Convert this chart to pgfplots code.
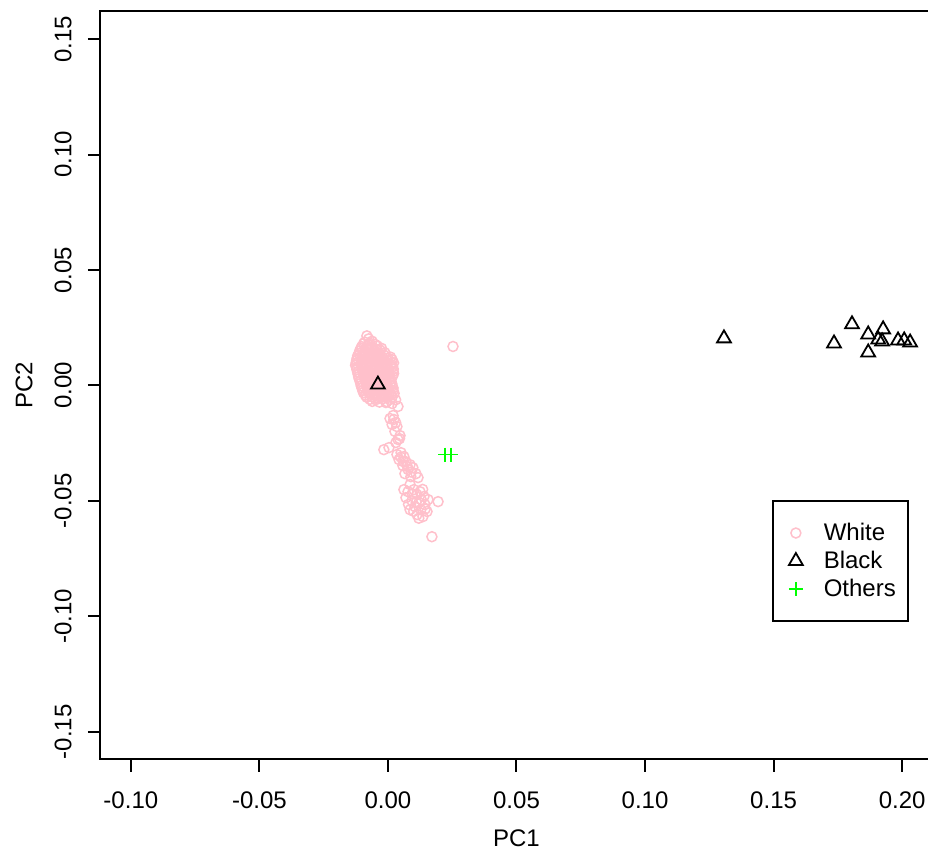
\documentclass[border=0pt]{standalone}
\usepackage{fontspec}
\setmainfont{Liberation Sans}
\usepackage{pgfplots}
\pgfplotsset{compat=1.18}
\definecolor{rpink}{RGB}{255,192,203}
\definecolor{rgreen}{RGB}{0,255,0}

% PC scores, white group
\pgfplotstableread{
x y
-0.0082 0.0215
-0.0090 0.0188
-0.0062 0.0192
-0.0075 0.0178
-0.0102 0.0168
-0.0081 0.0171
-0.0060 0.0166
-0.0042 0.0172
-0.0110 0.0150
-0.0091 0.0147
-0.0071 0.0153
-0.0050 0.0149
-0.0031 0.0154
-0.0040 0.0140
-0.0118 0.0128
-0.0097 0.0133
-0.0077 0.0127
-0.0056 0.0131
-0.0036 0.0126
-0.0015 0.0132
-0.0066 0.0140
-0.0086 0.0141
-0.0122 0.0108
-0.0101 0.0112
-0.0080 0.0106
-0.0061 0.0113
-0.0041 0.0108
-0.0020 0.0111
0.0000 0.0107
0.0016 0.0112
-0.0126 0.0088
-0.0106 0.0092
-0.0085 0.0087
-0.0064 0.0091
-0.0045 0.0086
-0.0024 0.0093
-0.0004 0.0089
0.0014 0.0090
0.0022 0.0098
-0.0121 0.0069
-0.0100 0.0072
-0.0079 0.0067
-0.0059 0.0071
-0.0039 0.0066
-0.0019 0.0072
0.0001 0.0068
0.0021 0.0071
-0.0116 0.0048
-0.0095 0.0052
-0.0074 0.0047
-0.0054 0.0051
-0.0034 0.0046
-0.0014 0.0052
0.0006 0.0048
0.0022 0.0052
-0.0112 0.0029
-0.0091 0.0032
-0.0070 0.0027
-0.0049 0.0031
-0.0029 0.0027
-0.0010 0.0032
0.0011 0.0028
-0.0106 0.0009
-0.0085 0.0012
-0.0065 0.0007
-0.0045 0.0011
-0.0025 0.0006
-0.0005 0.0012
0.0015 0.0008
-0.0101 -0.0011
-0.0080 -0.0008
-0.0060 -0.0013
-0.0040 -0.0009
-0.0020 -0.0012
0.0000 -0.0008
0.0020 -0.0011
-0.0095 -0.0031
-0.0075 -0.0028
-0.0055 -0.0033
-0.0035 -0.0029
-0.0015 -0.0032
0.0005 -0.0028
0.0024 -0.0034
-0.0082 -0.0051
-0.0062 -0.0048
-0.0042 -0.0053
-0.0022 -0.0049
0.0000 -0.0052
0.0016 -0.0050
-0.0061 -0.0069
-0.0033 -0.0072
-0.0005 -0.0070
0.0030 -0.0062
-0.0075 0.0202
-0.0095 0.0181
-0.0070 0.0183
-0.0050 0.0178
-0.0105 0.0161
-0.0085 0.0158
-0.0065 0.0162
-0.0045 0.0157
-0.0025 0.0161
-0.0112 0.0139
-0.0092 0.0142
-0.0072 0.0138
-0.0052 0.0141
-0.0032 0.0137
-0.0012 0.0142
-0.0120 0.0118
-0.0100 0.0122
-0.0080 0.0117
-0.0060 0.0121
-0.0040 0.0118
-0.0020 0.0122
0.0000 0.0119
0.0010 0.0123
-0.0124 0.0098
-0.0104 0.0101
-0.0084 0.0097
-0.0064 0.0102
-0.0044 0.0098
-0.0024 0.0101
-0.0004 0.0097
0.0016 0.0101
-0.0122 0.0078
-0.0102 0.0082
-0.0082 0.0077
-0.0062 0.0081
-0.0042 0.0078
-0.0022 0.0082
-0.0002 0.0077
0.0018 0.0081
-0.0118 0.0058
-0.0098 0.0062
-0.0078 0.0057
-0.0058 0.0061
-0.0038 0.0058
-0.0018 0.0062
0.0002 0.0057
0.0020 0.0061
-0.0114 0.0038
-0.0094 0.0042
-0.0074 0.0037
-0.0054 0.0041
-0.0034 0.0038
-0.0014 0.0042
0.0006 0.0037
0.0018 0.0041
-0.0108 0.0018
-0.0088 0.0022
-0.0068 0.0017
-0.0048 0.0021
-0.0028 0.0018
-0.0008 0.0022
0.0012 0.0017
-0.0104 -0.0002
-0.0084 0.0002
-0.0064 -0.0003
-0.0044 0.0001
-0.0024 -0.0002
-0.0004 0.0002
0.0016 -0.0003
-0.0098 -0.0022
-0.0078 -0.0018
-0.0058 -0.0023
-0.0038 -0.0019
-0.0018 -0.0022
0.0002 -0.0018
0.0020 -0.0023
-0.0088 -0.0042
-0.0068 -0.0038
-0.0048 -0.0043
-0.0028 -0.0039
-0.0008 -0.0042
0.0012 -0.0038
-0.0070 -0.0060
-0.0048 -0.0062
-0.0020 -0.0058
0.0008 -0.0061
0.0039 -0.0091
0.0016 -0.0078
-0.0008 -0.0074
0.0008 -0.0143
0.0023 -0.0147
0.0016 -0.0169
0.0035 -0.0178
0.0027 -0.0199
0.0047 -0.0217
0.0039 -0.0234
0.0031 -0.0247
-0.0016 -0.0278
0.0004 -0.0269
0.0035 -0.0299
0.0051 -0.0291
0.0062 -0.0308
0.0043 -0.0321
0.0070 -0.0330
0.0086 -0.0343
0.0058 -0.0347
0.0078 -0.0364
0.0097 -0.0356
0.0109 -0.0382
0.0066 -0.0382
0.0089 -0.0395
0.0117 -0.0399
0.0086 -0.0429
0.0062 -0.0451
0.0078 -0.0460
0.0101 -0.0451
0.0113 -0.0473
0.0125 -0.0460
0.0140 -0.0481
0.0070 -0.0486
0.0093 -0.0499
0.0121 -0.0507
0.0144 -0.0516
0.0156 -0.0494
0.0105 -0.0525
0.0086 -0.0538
0.0128 -0.0538
0.0152 -0.0546
0.0113 -0.0559
0.0136 -0.0568
0.0095 -0.0470
0.0130 -0.0495
0.0110 -0.0505
0.0145 -0.0535
0.0100 -0.0545
0.0120 -0.0575
0.0080 -0.0515
0.0135 -0.0450
0.0075 -0.0350
0.0090 -0.0375
0.0060 -0.0330
0.0050 -0.0310
0.0030 -0.0160
0.0045 -0.0230
0.0020 -0.0130
0.0195 -0.0503
0.0171 -0.0655
0.0253 0.0169
}\white

\pgfplotstableread{
x y
-0.0039 0.0004
0.1307 0.0204
0.1735 0.0182
0.1805 0.0265
0.1868 0.0221
0.1926 0.0243
0.1868 0.0143
0.1907 0.0199
0.1922 0.0191
0.1984 0.0195
0.2008 0.0195
0.2031 0.0186
}\black

\pgfplotstableread{
x y
0.0222 -0.0299
0.0245 -0.0299
}\others

\begin{document}
\begin{tikzpicture}
\begin{axis}[
  at={(0,0)}, anchor=south west,
  scale only axis, width=416.5pt, height=374pt,
  xmin=-0.112, xmax=0.212, ymin=-0.162, ymax=0.162,
  axis line style={line width=1pt},
  xtick={-0.1,-0.05,0,0.05,0.1,0.15,0.2},
  ytick={-0.15,-0.1,-0.05,0,0.05,0.1,0.15},
  xtick pos=bottom, ytick pos=left,
  tick align=outside, major tick length=6pt,
  tick style={black, line width=1pt},
  tick label style={font=\fontsize{12}{14}\selectfont},
  xticklabel style={inner sep=0pt, anchor=north},
  yticklabel style={rotate=90, inner sep=0pt, anchor=south},
  xticklabel shift=10pt, yticklabel shift=8pt,
  /pgf/number format/.cd, fixed, fixed zerofill, precision=2, assume math mode=true,
  /pgfplots/.cd,
  xlabel={PC1}, ylabel={PC2},
  label style={font=\fontsize{12}{14}\selectfont},
  xlabel style={at={(axis description cs:0.5,-0.105)}, anchor=center},
  ylabel style={at={(axis description cs:-0.0912,0.5)}, anchor=center},
  legend style={at={(axis description cs:0.8067,0.3469)}, anchor=north west,
    draw=black, line width=1pt, font=\fontsize{12}{14}\selectfont,
    inner xsep=6pt, inner ysep=9pt, row sep=0pt, column sep=8.5pt,
    nodes={inner sep=0pt, minimum height=14pt}},
  legend cell align=left,
  legend image code/.code={\path (-5pt,0pt) (5pt,0pt); \draw[#1] plot coordinates {(0pt,0pt)};},
]
\addplot[only marks, mark=o, mark size=2.5pt, color=rpink, line width=0.75pt] table[x=x,y=y] {\white};
\addplot[only marks, mark=triangle, mark size=4pt, color=black, line width=0.9pt] table[x=x,y=y] {\black};
\addplot[only marks, mark=+, mark size=3.5pt, color=rgreen, line width=0.9pt] table[x=x,y=y] {\others};
\legend{White, Black, Others}
\end{axis}
\pgfresetboundingbox
\useasboundingbox (-50pt,-46.25pt) rectangle (414pt,379.75pt);
\end{tikzpicture}
\end{document}
